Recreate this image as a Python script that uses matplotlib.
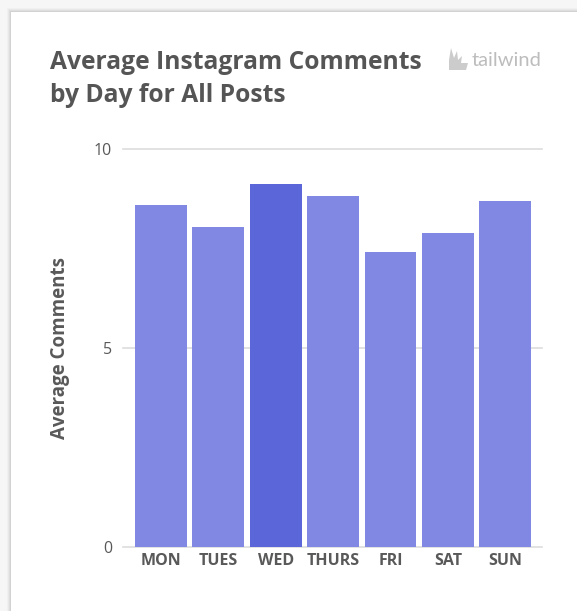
import matplotlib.pyplot as plt
from matplotlib.patches import Rectangle, Polygon

# data
days = ['MON', 'TUES', 'WED', 'THURS', 'FRI', 'SAT', 'SUN']
avg_comments = [8.59, 8.03, 9.11, 8.81, 7.42, 7.89, 8.68]
highlight = 'WED'
y_ticks = [0, 5, 10]

W, H = 577, 611
fig = plt.figure(figsize=(W / 100, H / 100), dpi=100, facecolor='#f6f6f6')

# card with a soft shadow
for i, a in enumerate([0.025, 0.03, 0.04, 0.05]):
    d = 4 - i
    fig.patches.append(Rectangle(((11 - d) / W, 0), 1, (H - 12 + d) / H,
                                 transform=fig.transFigure, facecolor='#000000',
                                 alpha=a, edgecolor='none', zorder=0))
fig.patches.append(Rectangle((11 / W, 0), 1, (H - 12) / H, transform=fig.transFigure,
                             facecolor='white', edgecolor='none', zorder=1))

ax = fig.add_axes([123 / W, (H - 547.3) / H, (542 - 123) / W, (547.3 - 148.7) / H])
ax.set_facecolor('none')
ax.set_zorder(2)

x = range(len(days))
colors = ['#5b67d8' if d == highlight else '#8088e4' for d in days]
ax.bar(x, avg_comments, width=0.9, color=colors, zorder=3)

ax.set_xlim(-0.66, len(days) - 0.36)
ax.set_ylim(0, 10)
ax.set_yticks(y_ticks)
ax.set_yticklabels([str(t) for t in y_ticks])
ax.set_xticks(list(x))
ax.set_xticklabels(days, fontfamily='Open Sans', fontweight='bold', fontsize=11.5, color='#595959')
for lab in ax.get_yticklabels():
    lab.set_fontfamily('Open Sans')
    lab.set_fontsize(11.5)
    lab.set_color('#595959')
ax.tick_params(axis='both', length=0)
ax.tick_params(axis='y', pad=8)
ax.tick_params(axis='x', pad=4)
for t in y_ticks:
    ax.axhline(t, color='#dddddd', linewidth=1.2, zorder=1, clip_on=False)
for s in ax.spines.values():
    s.set_visible(False)

ax.set_ylabel('Average Comments', fontfamily='Open Sans', fontweight='bold',
              fontsize=13.5, color='#595959', labelpad=17)

fig.text(50 / W, 1 - 50 / H, 'Average Instagram Comments\nby Day for All Posts',
         fontfamily='Open Sans', fontweight='bold', fontsize=17.7, color='#555555',
         va='top', ha='left', linespacing=1.42)

fig.text(542 / W, 1 - 61 / H, 'tailwind', fontfamily='Lato', fontsize=14.5,
         color='#bdbdbd', va='center', ha='right')
# small wing mark before the logo text
wing = [(449, 70), (449, 60), (451, 48), (454, 58), (457, 51), (458, 60),
        (462, 56), (461, 63), (468, 63), (466, 70)]
fig.patches.append(Polygon([(px / W, 1 - py / H) for px, py in wing], closed=True,
                           transform=fig.transFigure, facecolor='#cccccc',
                           edgecolor='none', zorder=3))

fig.savefig('out.png', dpi=100, facecolor=fig.get_facecolor())
